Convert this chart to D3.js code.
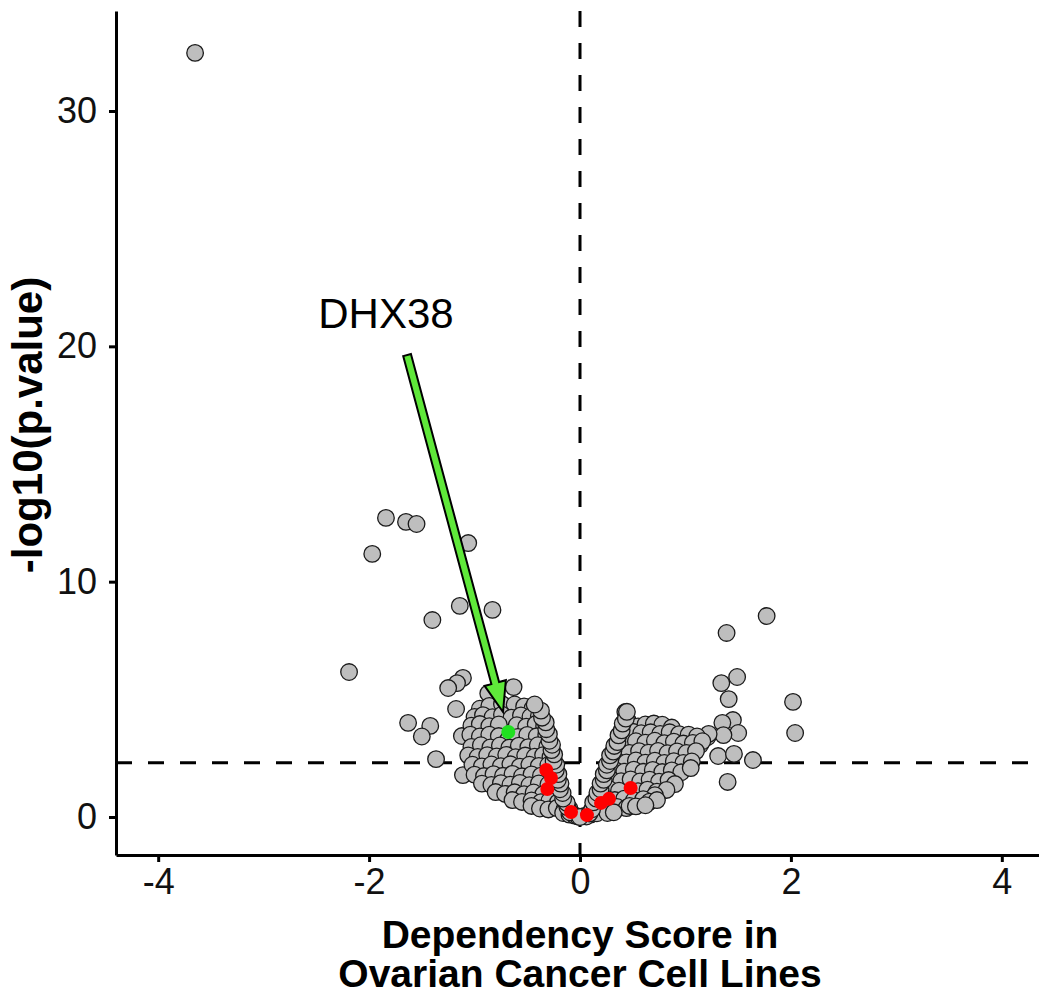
<!DOCTYPE html>
<html>
<head>
<meta charset="utf-8">
<script src="https://cdn.jsdelivr.net/npm/d3@7"></script>
<style>
  html, body { margin: 0; padding: 0; background: #fff; }
  svg { display: block; }
  text { font-family: "Liberation Sans", Arial, sans-serif; }
</style>
</head>
<body>
<svg id="chart" width="1039" height="995"></svg>
<script>
// Volcano plot: dependency score vs -log10(p.value) for ovarian cancer cell lines.

// Axis limits and ticks
const xLimits = [-4.4, 4.4];
const yLimits = [-1.615, 34.25];
const xTicks = [-4, -2, 0, 2, 4];
const yTicks = [0, 10, 20, 30];

// Reference lines: score 0 and the p-value cutoff on the -log10 scale
const scoreCutoff = 0;
const pCutoff = 2.3;

// Outlying genes, left (negative score) side
const grayLeftOutliers = [
  [-3.65, 32.47],
  [-1.84, 12.71], [-1.65, 12.54], [-1.55, 12.45], [-1.06, 11.64], [-1.97, 11.18],
  [-1.14, 8.97], [-0.83, 8.80], [-1.40, 8.37],
  [-2.19, 6.16],
  [-1.11, 5.91], [-1.166, 5.69], [-1.25, 5.48],
  [-1.175, 4.59], [-1.63, 4.0], [-1.42, 3.87], [-1.5, 3.42], [-1.365, 2.46],
  [-1.12, 3.44], [-1.11, 1.78],
  [-0.63, 5.52], [-0.87, 5.25]
];

// Outlying genes, right (positive score) side
const grayRightOutliers = [
  [1.77, 8.54], [1.39, 7.82], [1.34, 5.69], [1.49, 5.95], [1.41, 5.01],
  [1.45, 4.12], [1.35, 4.0], [1.50, 3.57], [1.36, 3.48], [1.21, 3.4],
  [1.31, 2.59], [1.46, 2.68], [1.64, 2.42], [1.40, 1.49], [1.14, 3.06],
  [1.22, 3.53], [2.02, 4.89], [2.04, 3.57], [0.43, 4.46], [0.45, 4.12]
];

// Bulk of genes with negative scores
const grayLeftBulk = [
  [-0.95, 4.6], [-0.86, 4.72], [-0.74, 4.8], [-0.62, 4.78], [-0.53, 4.7], [-0.45, 4.62],
  [-1.0, 4.25], [-0.92, 4.33], [-0.83, 4.24], [-0.74, 4.35], [-0.65, 4.22], [-0.56, 4.32], [-0.47, 4.26], [-0.39, 4.3],
  [-1.03, 3.88], [-0.95, 3.95], [-0.86, 3.86], [-0.77, 3.93], [-0.6, 3.9], [-0.51, 3.84], [-0.42, 3.95], [-0.34, 3.86],
  [-1.04, 3.5], [-0.95, 3.42], [-0.86, 3.5], [-0.77, 3.44], [-0.68, 3.3], [-0.59, 3.4], [-0.5, 3.49], [-0.41, 3.43], [-0.32, 3.48],
  [-1.03, 2.98], [-0.94, 3.05], [-0.85, 2.96], [-0.76, 3.04], [-0.67, 2.95], [-0.58, 3.03], [-0.49, 2.97], [-0.4, 3.05], [-0.31, 2.99],
  [-1.06, 2.62], [-0.97, 2.55], [-0.88, 2.63], [-0.79, 2.57], [-0.7, 2.64], [-0.61, 2.54], [-0.52, 2.61], [-0.43, 2.56], [-0.35, 2.63], [-0.28, 2.55],
  [-1.02, 2.22], [-0.93, 2.15], [-0.84, 2.23], [-0.75, 2.16], [-0.66, 2.24], [-0.57, 2.14], [-0.48, 2.22], [-0.39, 2.17], [-0.3, 2.21],
  [-1.0, 1.8], [-0.91, 1.74], [-0.82, 1.82], [-0.73, 1.75], [-0.64, 1.83], [-0.55, 1.73], [-0.46, 1.81], [-0.37, 1.76], [-0.28, 1.79],
  [-0.93, 1.42], [-0.84, 1.36], [-0.75, 1.44], [-0.66, 1.37], [-0.57, 1.45], [-0.48, 1.35], [-0.39, 1.43], [-0.3, 1.38], [-0.22, 1.41],
  [-0.8, 1.06], [-0.71, 0.98], [-0.62, 1.05], [-0.53, 0.97], [-0.44, 1.04], [-0.35, 0.96], [-0.27, 1.03], [-0.2, 0.97],
  [-0.64, 0.72], [-0.55, 0.64], [-0.46, 0.7], [-0.37, 0.63], [-0.29, 0.69], [-0.21, 0.62], [-0.15, 0.68],
  [-0.46, 0.47], [-0.38, 0.36], [-0.3, 0.32], [-0.22, 0.38], [-0.15, 0.3], [-0.1, 0.36],
  [-0.16, 0.17], [-0.1, 0.1], [-0.05, 0.06], [-0.02, 0.02],
  // genes piled along the inner edge of the left arm
  [-0.095, 0.2], [-0.12, 0.42], [-0.125, 0.6], [-0.16, 0.78], [-0.165, 1.02], [-0.19, 1.18], [-0.185, 1.42],
  [-0.21, 1.58], [-0.205, 1.82], [-0.23, 1.98], [-0.225, 2.22], [-0.25, 2.38], [-0.245, 2.66], [-0.27, 2.84],
  [-0.265, 3.07], [-0.29, 3.24], [-0.295, 3.52], [-0.32, 3.73], [-0.325, 4.02], [-0.36, 4.22], [-0.37, 4.52], [-0.43, 4.78]
];

// Bulk of genes with positive scores
const grayRightBulk = [
  [0.55, 3.85], [0.62, 3.93], [0.7, 3.97], [0.78, 3.92], [0.87, 3.8],
  [0.5, 3.62], [0.58, 3.56], [0.67, 3.6], [0.76, 3.53], [0.85, 3.6], [0.94, 3.52], [1.03, 3.5], [1.11, 3.42],
  [0.44, 3.15], [0.53, 3.22], [0.62, 3.16], [0.71, 3.24], [0.8, 3.14], [0.89, 3.2], [0.98, 3.12], [1.07, 3.15], [1.16, 3.22],
  [0.38, 2.78], [0.47, 2.72], [0.56, 2.8], [0.65, 2.73], [0.74, 2.81], [0.83, 2.71], [0.92, 2.79], [1.01, 2.72], [1.1, 2.8],
  [0.35, 2.38], [0.44, 2.32], [0.53, 2.4], [0.62, 2.31], [0.71, 2.39], [0.8, 2.3], [0.89, 2.37], [0.98, 2.3], [1.06, 2.36],
  [0.33, 2.0], [0.42, 1.93], [0.51, 2.01], [0.6, 1.92], [0.69, 2.0], [0.78, 1.91], [0.87, 1.98], [0.96, 1.9], [1.05, 2.08],
  [0.3, 1.58], [0.39, 1.52], [0.48, 1.6], [0.57, 1.51], [0.66, 1.59], [0.75, 1.5], [0.84, 1.57], [0.9, 1.4],
  [0.28, 1.18], [0.37, 1.12], [0.55, 1.1], [0.64, 1.16], [0.73, 1.08], [0.82, 1.15], [0.71, 0.93],
  [0.24, 0.8], [0.33, 0.72], [0.42, 0.78], [0.51, 0.7], [0.6, 0.76], [0.66, 0.65], [0.73, 0.72],
  [0.17, 0.42], [0.26, 0.36], [0.35, 0.43], [0.44, 0.38], [0.47, 0.47], [0.53, 0.45], [0.62, 0.5],
  [0.1, 0.1], [0.16, 0.16], [0.26, 0.17], [0.32, 0.2], [0.04, 0.04], [0.06, 0.02], [0.0, 0.0],
  // genes piled along the inner edge of the right arm
  [0.09, 0.15], [0.115, 0.33], [0.125, 0.62], [0.155, 0.78], [0.165, 1.03], [0.195, 1.18], [0.195, 1.42],
  [0.225, 1.58], [0.225, 1.82], [0.255, 1.98], [0.255, 2.22], [0.285, 2.38], [0.285, 2.62], [0.315, 2.78],
  [0.325, 3.02], [0.355, 3.18], [0.365, 3.47], [0.395, 3.68], [0.405, 3.97], [0.435, 4.18], [0.445, 4.47]
];

// Genes of interest drawn in red
const redGenes = [
  [-0.32, 2.0], [-0.275, 1.66], [-0.31, 1.19], [-0.085, 0.21],
  [0.066, 0.08], [0.2, 0.6], [0.275, 0.77], [0.48, 1.23]
];

// Highlighted gene and its callout
const highlightName = "DHX38";
const highlightGene = [-0.68, 3.61];
const calloutStart = [-1.64, 19.63];
const calloutTip = [-0.73, 4.46];
const calloutLabel = [-1.84, 20.8];

const svg = d3.select("#chart");
svg.append("rect").attr("width", 1039).attr("height", 995).attr("fill", "#fff");

const x = d3.scaleLinear().domain(xLimits).range([116, 1044]);
const y = d3.scaleLinear().domain(yLimits).range([855, 11]);

// Dashed reference lines
svg.append("line")
  .attr("x1", x(scoreCutoff)).attr("x2", x(scoreCutoff))
  .attr("y1", y(yLimits[1])).attr("y2", y(yLimits[0]))
  .attr("stroke", "#000").attr("stroke-width", 3).attr("stroke-dasharray", "16 16");
svg.append("line")
  .attr("x1", x(xLimits[0])).attr("x2", x(xLimits[1]))
  .attr("y1", y(pCutoff)).attr("y2", y(pCutoff))
  .attr("stroke", "#000").attr("stroke-width", 3).attr("stroke-dasharray", "16 16");

// Gray genes
const grayGenes = grayLeftOutliers.concat(grayRightOutliers, grayLeftBulk, grayRightBulk);
svg.append("g").selectAll("circle").data(grayGenes).join("circle")
  .attr("cx", d => x(d[0])).attr("cy", d => y(d[1])).attr("r", 8.3)
  .attr("fill", "#bebebe").attr("stroke", "#1a1a1a").attr("stroke-width", 1.3);

// Red genes
svg.append("g").selectAll("circle").data(redGenes).join("circle")
  .attr("cx", d => x(d[0])).attr("cy", d => y(d[1])).attr("r", 7)
  .attr("fill", "#ff0000");

// Highlighted gene
svg.append("circle")
  .attr("cx", x(highlightGene[0])).attr("cy", y(highlightGene[1])).attr("r", 7)
  .attr("fill", "#1fe01f");

// Callout arrow as a filled outline
(function drawArrow() {
  const sx = x(calloutStart[0]), sy = y(calloutStart[1]);
  const tx = x(calloutTip[0]), ty = y(calloutTip[1]);
  const len = Math.hypot(tx - sx, ty - sy);
  const ux = (tx - sx) / len, uy = (ty - sy) / len;
  const px = -uy, py = ux;
  const shaftHalf = 4, headHalf = 11, headLen = 30;
  const bx = tx - ux * headLen, by = ty - uy * headLen;
  const pts = [
    [sx + px * shaftHalf, sy + py * shaftHalf],
    [bx + px * shaftHalf, by + py * shaftHalf],
    [bx + px * headHalf, by + py * headHalf],
    [tx, ty],
    [bx - px * headHalf, by - py * headHalf],
    [bx - px * shaftHalf, by - py * shaftHalf],
    [sx - px * shaftHalf, sy - py * shaftHalf]
  ];
  svg.append("path")
    .attr("d", d3.line()(pts) + "Z")
    .attr("fill", "#5fe83a").attr("stroke", "#000").attr("stroke-width", 2)
    .attr("stroke-linejoin", "miter");
})();

svg.append("text")
  .attr("x", x(calloutLabel[0])).attr("y", y(calloutLabel[1]))
  .attr("text-anchor", "middle").attr("font-size", 42).attr("fill", "#000")
  .text(highlightName);

// Axes (plain hyphen for negative tick labels)
const tickFmt = d => String(d);
const xAxis = svg.append("g").attr("transform", "translate(0,855)")
  .call(d3.axisBottom(x).tickValues(xTicks).tickFormat(tickFmt)
    .tickSizeInner(7).tickSizeOuter(0).tickPadding(6));
const yAxis = svg.append("g").attr("transform", "translate(116,0)")
  .call(d3.axisLeft(y).tickValues(yTicks).tickFormat(tickFmt)
    .tickSizeInner(7).tickSizeOuter(0).tickPadding(12));

[xAxis, yAxis].forEach(g => {
  g.select(".domain").attr("stroke", "#000").attr("stroke-width", 3);
  g.selectAll(".tick line").attr("stroke", "#000").attr("stroke-width", 3);
  g.selectAll(".tick text").attr("font-size", 36).attr("fill", "#111")
    .attr("font-family", "'Liberation Sans', Arial, sans-serif");
});

// Axis titles
svg.append("text")
  .attr("transform", "translate(42,425) rotate(-90)")
  .attr("text-anchor", "middle").attr("font-size", 42).attr("font-weight", "bold")
  .text("-log10(p.value)");

svg.append("text")
  .attr("x", 580).attr("y", 948)
  .attr("text-anchor", "middle").attr("font-size", 39).attr("font-weight", "bold")
  .text("Dependency Score in");
svg.append("text")
  .attr("x", 580).attr("y", 987)
  .attr("text-anchor", "middle").attr("font-size", 39).attr("font-weight", "bold")
  .text("Ovarian Cancer Cell Lines");
</script>
</body>
</html>
